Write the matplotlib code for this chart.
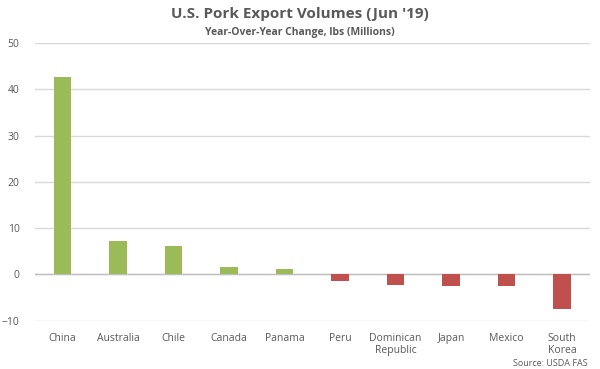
import numpy as np
import matplotlib.pyplot as plt

plt.rcParams['font.family'] = ['Open Sans', 'DejaVu Sans']

# Dane
countries = ['China', 'Australia', 'Chile', 'Canada', 'Panama', 'Peru',
             'Dominican\nRepublic', 'Japan', 'Mexico', 'South\nKorea']
values = [42.7, 7.2, 6.1, 1.5, 1.2, -1.4, -2.2, -2.6, -2.6, -7.5]

green = '#9BBB59'
red = '#C0504D'
grey = '#595959'

fig = plt.figure(figsize=(6, 3.69), dpi=100)
ax = fig.add_axes([0.058, 0.131, 0.925, 0.752])

x = np.arange(len(countries))
colors = [green if v >= 0 else red for v in values]
ax.bar(x, values, width=0.31, color=colors, zorder=3)

ax.set_ylim(-10, 50)
ax.set_xlim(-0.5, len(countries) - 0.5)
ax.set_yticks(range(-10, 51, 10))
ax.set_xticks(x)
ax.set_xticklabels(countries, fontsize=7.5, color=grey, linespacing=1.1)
ax.tick_params(axis='y', labelsize=7.5, labelcolor=grey, length=0, pad=11)
ax.tick_params(axis='x', length=0, pad=9)
ax.grid(axis='y', color='#D9D9D9', linewidth=1, zorder=0)
ax.axhline(0, color='#BFBFBF', linewidth=1, zorder=2)
for s in ax.spines.values():
    s.set_visible(False)

fig.text(0.5, 0.962, "U.S. Pork Export Volumes (Jun '19)", ha='center', va='center',
         fontsize=11, fontweight='bold', color=grey)
fig.text(0.5, 0.911, 'Year-Over-Year Change, lbs (Millions)', ha='center', va='center',
         fontsize=7.5, fontweight='bold', color=grey)
fig.text(0.98, 0.015, 'Source: USDA FAS', ha='right', va='center', fontsize=6.5, color=grey)

fig.savefig('out.png', dpi=100)
